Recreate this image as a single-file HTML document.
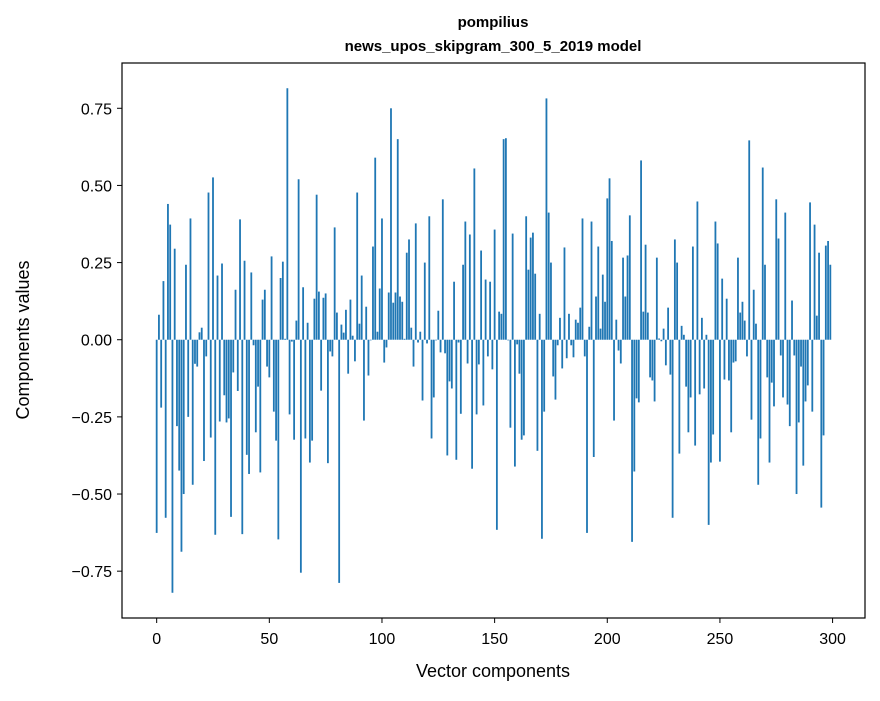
<!DOCTYPE html>
<html><head><meta charset="utf-8"><style>
body{margin:0;background:#fff;}
svg text{font-family:"Liberation Sans","DejaVu Sans",sans-serif;fill:#000;}
</style></head><body>
<svg id="chart" width="880" height="696" viewBox="0 0 880 696" xmlns="http://www.w3.org/2000/svg">
<rect width="880" height="696" fill="#fff"/>
<text x="493" y="27" text-anchor="middle" font-size="15" font-weight="bold">pompilius</text>
<text x="493" y="51" text-anchor="middle" font-size="15" font-weight="bold">news_upos_skipgram_300_5_2019 model</text>
<g id="bars"></g>
<g id="xticks"></g>
<g id="yticks"></g>
<rect x="122" y="63" width="743" height="555" fill="none" stroke="#000" stroke-width="1.2"/>
<text x="493" y="677" text-anchor="middle" font-size="18">Vector components</text>
<text transform="translate(29,340) rotate(-90)" text-anchor="middle" font-size="18">Components values</text>
</svg>
<script>
const values = [
-0.626,0.081,-0.22,0.19,-0.577,0.44,0.373,-0.82,0.295,-0.28,
-0.424,-0.687,-0.5,0.243,-0.25,0.393,-0.47,-0.078,-0.087,0.024,
0.039,-0.393,-0.054,0.477,-0.317,0.526,-0.632,0.208,-0.265,0.247,
-0.18,-0.268,-0.255,-0.574,-0.106,0.162,-0.166,0.39,-0.63,0.256,
-0.373,-0.435,0.218,-0.018,-0.3,-0.152,-0.43,0.13,0.162,-0.087,
-0.122,0.27,-0.233,-0.327,-0.647,0.2,0.253,0.003,0.815,-0.242,
-0.006,-0.324,0.062,0.52,-0.755,0.17,-0.32,0.055,-0.398,-0.327,
0.133,0.47,0.156,-0.165,0.136,0.15,-0.4,-0.038,-0.054,0.364,
0.088,-0.788,0.049,0.023,0.097,-0.11,0.13,0.013,-0.07,0.477,
0.052,0.208,-0.262,0.107,-0.116,-0.002,0.302,0.59,0.026,0.166,
0.393,-0.074,-0.025,0.153,0.75,0.12,0.153,0.65,0.14,0.123,
0.003,0.282,0.325,0.039,-0.087,0.377,-0.009,0.026,-0.197,0.25,
-0.012,0.4,-0.32,-0.187,-0.002,0.094,-0.041,0.455,-0.044,-0.375,
-0.135,-0.158,0.188,-0.389,-0.009,-0.24,0.243,0.383,-0.077,0.341,
-0.418,0.555,-0.242,-0.08,0.289,-0.213,0.195,-0.054,0.188,-0.096,
0.357,-0.616,0.091,0.084,0.65,0.653,-0.002,-0.285,0.344,-0.411,
-0.015,-0.11,-0.324,-0.31,0.4,0.227,0.331,0.347,0.214,-0.36,
0.084,-0.645,-0.233,0.782,0.412,0.25,-0.119,-0.194,-0.018,0.071,
-0.093,0.299,-0.06,0.084,-0.018,-0.057,0.065,0.055,0.104,0.393,
-0.054,-0.626,0.042,0.383,-0.38,0.14,0.302,0.036,0.211,0.123,
0.458,0.523,0.32,-0.262,0.065,-0.035,-0.077,0.266,0.14,0.273,
0.403,-0.655,-0.427,-0.19,-0.203,0.581,0.091,0.308,0.088,-0.122,
-0.132,-0.2,0.266,0.004,-0.005,0.036,-0.083,0.104,-0.113,-0.577,
0.325,0.25,-0.369,0.045,0.016,-0.152,-0.3,-0.187,0.302,-0.343,
0.448,-0.177,0.071,-0.158,0.016,-0.6,-0.398,-0.307,0.383,0.312,
-0.395,0.198,-0.129,0.133,-0.132,-0.3,-0.074,-0.07,0.266,0.088,
0.123,0.062,-0.054,0.646,-0.259,0.162,0.052,-0.47,-0.32,0.558,
0.243,-0.122,-0.398,-0.139,-0.216,0.455,0.328,-0.051,-0.187,0.412,
-0.21,-0.28,0.127,-0.051,-0.5,-0.268,-0.087,-0.408,-0.2,-0.148,
0.445,-0.233,0.373,0.078,0.282,-0.544,-0.31,0.305,0.32,0.243
];
const xTickValues = [0,50,100,150,200,250,300];
const xTickLabels = ["0","50","100","150","200","250","300"];
const yTickValues = [-0.75,-0.5,-0.25,0,0.25,0.5,0.75];
const yTickLabels = ["\u22120.75","\u22120.50","\u22120.25","0.00","0.25","0.50","0.75"];

const NS="http://www.w3.org/2000/svg";
const L=122,R=865,T=63,B=618;
const n=values.length;
const xmin=-0.4,xmax=n-1+0.4,xpad=(xmax-xmin)*0.05;
const x0=xmin-xpad,x1=xmax+xpad;
const vmin=Math.min(0,...values),vmax=Math.max(0,...values),ypad=(vmax-vmin)*0.05;
const y0=vmin-ypad,y1=vmax+ypad;
function xs(v){return L+(v-x0)/(x1-x0)*(R-L);}
function ys(v){return B-(v-y0)/(y1-y0)*(B-T);}
const bars=document.getElementById('bars');
values.forEach((v,i)=>{
  const r=document.createElementNS(NS,'rect');
  const a=xs(i-0.4),b=xs(i+0.4);
  r.setAttribute('x',a);r.setAttribute('width',b-a);
  r.setAttribute('y',Math.min(ys(v),ys(0)));
  r.setAttribute('height',Math.abs(ys(v)-ys(0)));
  r.setAttribute('fill','#1f77b4');
  
  
  bars.appendChild(r);
});
const xg=document.getElementById('xticks');
xTickValues.forEach((v,i)=>{
  const x=xs(v);
  const l=document.createElementNS(NS,'line');
  l.setAttribute('x1',x);l.setAttribute('x2',x);l.setAttribute('y1',B);l.setAttribute('y2',B+5);
  l.setAttribute('stroke','#000');
  
  
  xg.appendChild(l);
  const t=document.createElementNS(NS,'text');
  t.setAttribute('x',x);t.setAttribute('y',B+26);t.setAttribute('text-anchor','middle');t.setAttribute('font-size','16');
  t.textContent=xTickLabels[i];
  
  
  xg.appendChild(t);
});
const yg=document.getElementById('yticks');
yTickValues.forEach((v,i)=>{
  const y=ys(v);
  const l=document.createElementNS(NS,'line');
  l.setAttribute('x1',L-5);l.setAttribute('x2',L);l.setAttribute('y1',y);l.setAttribute('y2',y);
  l.setAttribute('stroke','#000');
  
  
  yg.appendChild(l);
  const t=document.createElementNS(NS,'text');
  t.setAttribute('x',L-10);t.setAttribute('y',y+6);t.setAttribute('text-anchor','end');t.setAttribute('font-size','16');
  t.textContent=yTickLabels[i];
  
  
  yg.appendChild(t);
});
</script>
</body></html>
